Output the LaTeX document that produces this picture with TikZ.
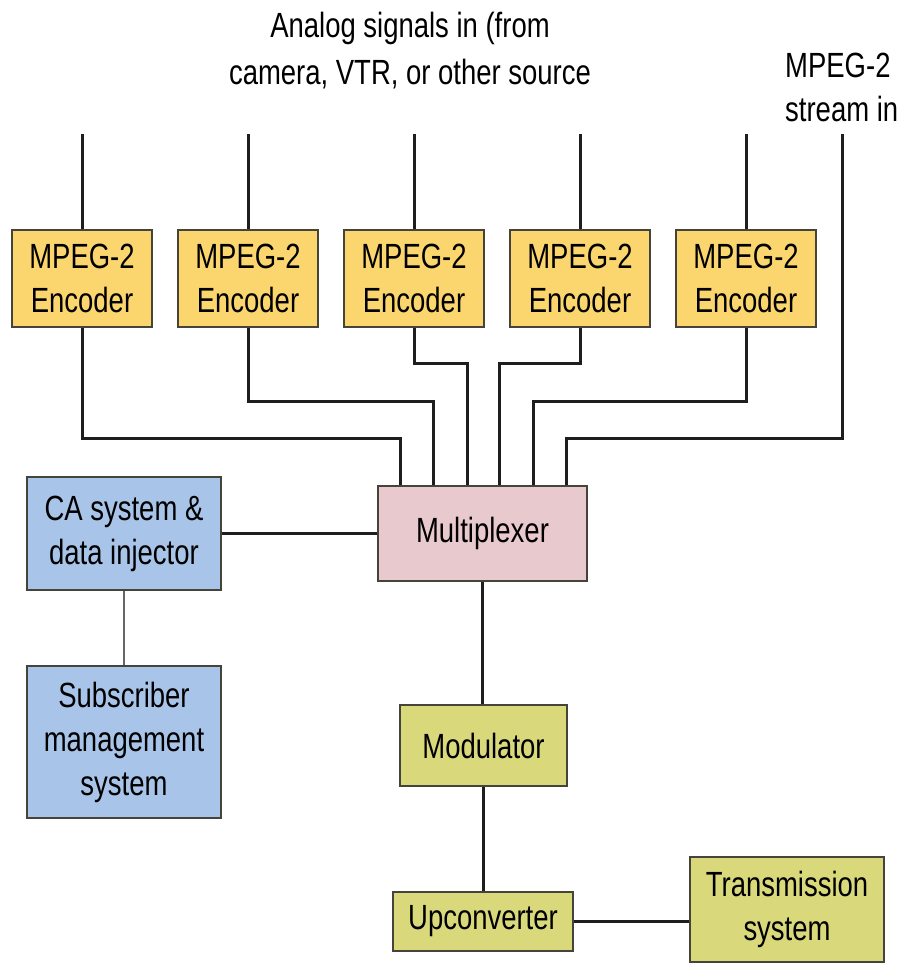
\documentclass[tikz,border=0pt]{standalone}
\usepackage{fontspec}
\setmainfont{Liberation Sans}[FakeStretch=0.785]
\definecolor{encfill}{HTML}{FBD66E}
\definecolor{cafill}{HTML}{A8C4E8}
\definecolor{muxfill}{HTML}{E8CACE}
\definecolor{modfill}{HTML}{D9D97C}
\definecolor{edgecol}{HTML}{45433A}
\definecolor{wirecol}{HTML}{1E1E1E}
\begin{document}
\begin{tikzpicture}[x=1pt,y=-1pt,
  box/.style={draw=edgecol, line width=2pt, align=center, inner sep=0pt,
    font=\fontsize{35}{44}\selectfont},
  enc/.style={box, fill=encfill, minimum width=140pt, minimum height=97pt},
  blue/.style={box, fill=cafill, minimum width=194pt},
  olive/.style={box, fill=modfill},
  wire/.style={line width=3pt, draw=wirecol},
  thinwire/.style={line width=1.4pt, draw=black!60},
  label/.style={inner sep=0pt, font=\fontsize{35}{47}\selectfont}]
\useasboundingbox (0,0) rectangle (900,969);

% labels
\node[label, align=center] (analog) at (410,51) {Analog signals in (from\\camera, VTR, or other source};
\node[label, align=left, anchor=west, font=\fontsize{35}{44}\selectfont] (mpegin) at (785,87) {MPEG-2\\stream in};

% encoders
\node[enc] (e1) at (82,278.5) {MPEG-2\\Encoder};
\node[enc] (e2) at (248,278.5) {MPEG-2\\Encoder};
\node[enc] (e3) at (414,278.5) {MPEG-2\\Encoder};
\node[enc] (e4) at (580,278.5) {MPEG-2\\Encoder};
\node[enc] (e5) at (746,278.5) {MPEG-2\\Encoder};

% other boxes
\node[box, fill=muxfill, minimum width=209pt, minimum height=95pt] (mux) at (482.5,533.5) {Multiplexer};
\node[blue, minimum height=113pt] (ca) at (124,533.5) {CA system \&\\data injector};
\node[blue, minimum height=152pt] (sub) at (124,742) {Subscriber\\management\\system};
\node[olive, minimum width=167pt, minimum height=81pt] (mod) at (483.5,745.5) {Modulator};
\node[olive, minimum width=180pt, minimum height=59pt] (up) at (483,921.5) {Upconverter};
\node[olive, minimum width=194pt, minimum height=105pt] (tx) at (787,909.5) {Transmission\\system};

% input lines
\coordinate (i1) at (82,134);
\coordinate (i2) at (248,134);
\coordinate (i3) at (414,134);
\coordinate (i4) at (580,134);
\coordinate (i5) at (746,134);
\coordinate (i6) at (842,134);
\draw[wire] (i1) -- (e1.north);
\draw[wire] (i2) -- (e2.north);
\draw[wire] (i3) -- (e3.north);
\draw[wire] (i4) -- (e4.north);
\draw[wire] (i5) -- (e5.north);

% bends into multiplexer
\coordinate (j1) at (400,438);
\coordinate (j2) at (433,401);
\coordinate (j3) at (467,363);
\coordinate (j4) at (499,363);
\coordinate (j5) at (533,401);
\coordinate (j6) at (566,438);
\draw[wire] (e1.south) |- (j1) -- (j1 |- mux.north);
\draw[wire] (e2.south) |- (j2) -- (j2 |- mux.north);
\draw[wire] (e3.south) |- (j3) -- (j3 |- mux.north);
\draw[wire] (e4.south) |- (j4) -- (j4 |- mux.north);
\draw[wire] (e5.south) |- (j5) -- (j5 |- mux.north);
\draw[wire] (i6) |- (j6) -- (j6 |- mux.north);

% other connectors
\draw[wire] (ca.east) -- (mux.west);
\draw[thinwire] (ca.south) -- (sub.north);
\draw[wire] (mux.south) -- (mux.south |- mod.north);
\draw[wire] (mod.south) -- (mod.south |- up.north);
\draw[wire] (up.east) -- (up.east -| tx.west);
\end{tikzpicture}
\end{document}
